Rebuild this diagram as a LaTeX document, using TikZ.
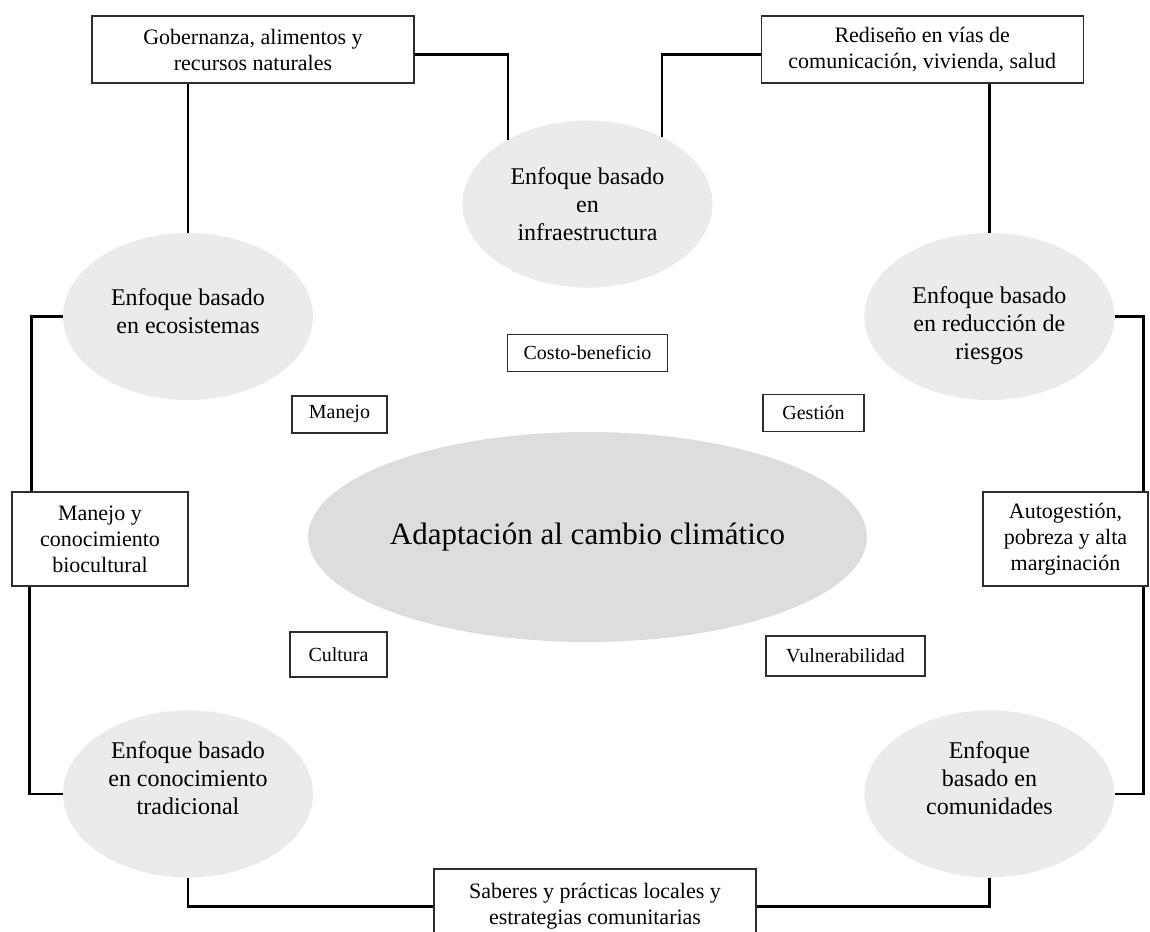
\documentclass[tikz,border=0pt]{standalone}
\usepackage{fontspec}
\setmainfont{Liberation Serif}
\usetikzlibrary{shapes.geometric}
\usetikzlibrary{positioning}

\definecolor{grisenfoque}{RGB}{235,235,235}
\definecolor{griscentro}{RGB}{221,221,221}
\definecolor{gristrazo}{RGB}{45,45,45}

\begin{document}
\begin{tikzpicture}[x=1pt, y=-1pt,
    enfoque/.style={ellipse, fill=grisenfoque, minimum width=250pt, minimum height=167pt, inner sep=0pt, align=center, font=\fontsize{24}{28}\selectfont},
    recuadro/.style={draw=gristrazo, line width=1.2pt, rectangle, inner sep=0pt, align=center, font=\fontsize{22}{26}\selectfont},
    etiqueta/.style={draw=gristrazo, line width=1.2pt, rectangle, inner sep=0pt, minimum height=37pt, font=\fontsize{20}{24}\selectfont},
    conector/.style={line width=2.5pt}]

    \useasboundingbox (0,0) rectangle (1150,931);

    \node(centro)[ellipse, fill=griscentro, minimum width=508pt, minimum height=210pt, inner sep=0pt, font=\fontsize{31}{36}\selectfont] at (587.5,537) {Adaptación al cambio climático};

    \node(infra)[enfoque, above=144pt of centro]{Enfoque basado\\en\\infraestructura};
    \node(eco)[enfoque] at (188,316.5) {Enfoque basado\\en ecosistemas\\[-18pt]\mbox{}};
    \node(riesgos)[enfoque, right=551pt of eco]{\mbox{}\\[8pt]Enfoque basado\\en reducción de\\riesgos};
    \node(trad)[enfoque, below=310pt of eco]{Enfoque basado\\en conocimiento\\tradicional\\[4pt]\mbox{}};
    \node(comun)[enfoque, right=551pt of trad]{Enfoque\\basado en\\comunidades\\[4pt]\mbox{}};

    \node(gob)[recuadro, minimum width=322pt, minimum height=67pt] at (253,49.5) {Gobernanza, alimentos y\\recursos naturales};
    \node(redis)[recuadro, minimum width=322pt, minimum height=67pt, right=346pt of gob]{Rediseño en vías de\\comunicación, vivienda, salud};
    \node(manbio)[recuadro, minimum width=176pt, minimum height=94pt] at (100,539) {Manejo y\\conocimiento\\biocultural};
    \node(autog)[recuadro, minimum width=165pt, minimum height=94pt] at (1065.5,539) {Autogestión,\\pobreza y alta\\marginación};
    \node(saberes)[recuadro, minimum width=322pt, minimum height=75pt] at (595,906.5) {Saberes y prácticas locales y\\estrategias comunitarias};

    \node(costo)[etiqueta, minimum width=160pt, above=60pt of centro]{Costo-beneficio};
    \node(manejo)[etiqueta, minimum width=95pt] at (339.5,414.5) {Manejo};
    \node(gestion)[etiqueta, minimum width=101pt] at (813.5,413) {Gestión};
    \node(cultura)[etiqueta, minimum width=97pt, minimum height=45pt] at (338.5,654.5) {Cultura};
    \node(vulner)[etiqueta, minimum width=159pt, minimum height=40pt] at (845.5,656) {Vulnerabilidad};

    \draw[conector] (gob.south -| eco.north) -- (eco.north);
    \draw[conector] ([yshift=-5pt]gob.east) -| (infra.141);
    \draw[conector] ([yshift=-5pt]redis.west) -| (infra.42);
    \draw[conector] (redis.south -| riesgos.north) -- (riesgos.north);
    \draw[conector] (eco.west) -| ([xshift=20pt]manbio.north west);
    \draw[conector] ([xshift=18pt]manbio.south west) |- (trad.west);
    \draw[conector] (riesgos.east) -| ([xshift=-5pt]autog.north east);
    \draw[conector] ([xshift=-5pt]autog.south east) |- (comun.east);
    \draw[conector] (trad.south) |- (saberes.west);
    \draw[conector] (comun.south) |- (saberes.east);

\end{tikzpicture}
\end{document}
